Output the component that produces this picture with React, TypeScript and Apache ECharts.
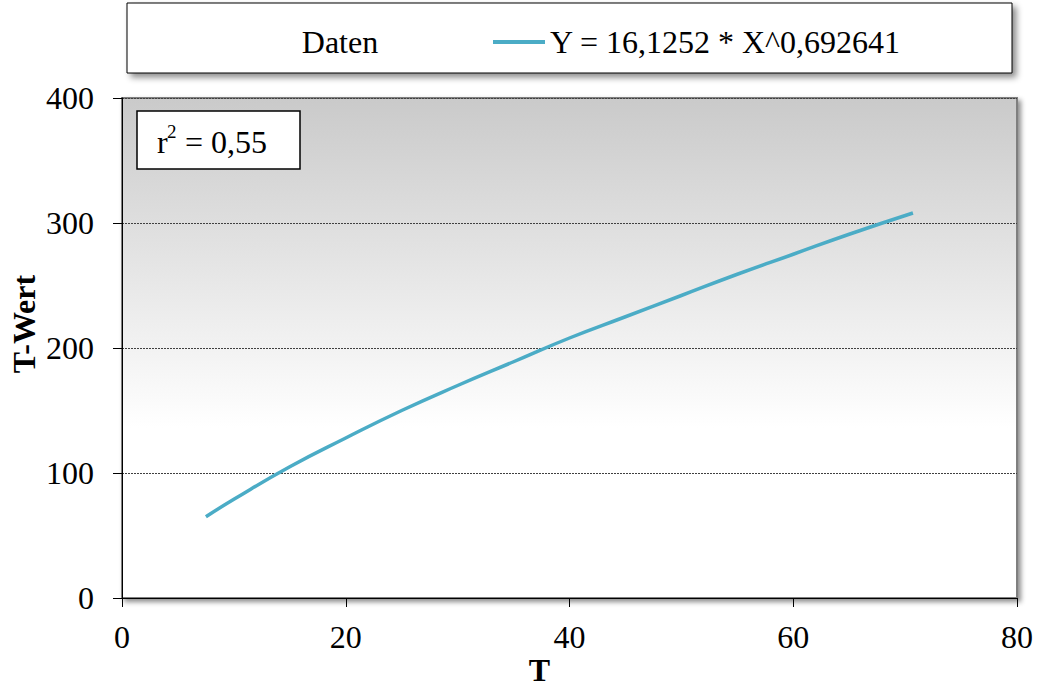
import React, { useEffect, useRef } from "react";
import * as echarts from "echarts";

const xValues = [7.5, 10, 15, 20, 25, 30, 35, 40, 45, 50, 55, 60, 65, 70.7];
const yValues = [65, 79, 105, 128, 150, 170, 189, 208, 225, 242, 259, 275, 291, 308];
const seriesName = "Y = 16,1252 * X^0,692641";
const dataLabel = "Daten";
const rSquared = "0,55";
const xTitle = "T";
const yTitle = "T-Wert";

const FONT = "'Liberation Serif', 'Times New Roman', serif";
const FS = 32;

export default function App() {
  const ref = useRef<HTMLDivElement>(null);
  useEffect(() => {
    if (!ref.current) return;
    const chart = echarts.init(ref.current, undefined, { renderer: "svg" });
    const data = xValues.map((x, i) => [x, yValues[i]]);
    chart.setOption({
      animation: false,
      textStyle: { fontFamily: FONT },
      grid: {
        left: 122,
        right: 20,
        top: 98,
        bottom: 91,
        outerBoundsMode: "none",
        containLabel: false,
        show: true,
        backgroundColor: new echarts.graphic.LinearGradient(0, 0, 0, 1, [
          { offset: 0, color: "#cacaca" },
          { offset: 0.66, color: "#ffffff" },
          { offset: 1, color: "#ffffff" },
        ]),
        borderColor: "#7f7f7f",
        borderWidth: 2,
        shadowBlur: 5,
        shadowOffsetX: 3,
        shadowOffsetY: 3,
        shadowColor: "rgba(0,0,0,0.45)",
      },
      legend: {
        data: [seriesName],
        left: 493,
        top: 26,
        padding: 0,
        icon: "rect",
        itemWidth: 52,
        itemHeight: 4,
        textStyle: { fontFamily: FONT, fontSize: FS, color: "#000" },
      },
      xAxis: {
        type: "value",
        min: 0,
        max: 80,
        interval: 20,
        name: xTitle,
        nameLocation: "middle",
        nameGap: 56,
        nameMoveOverlap: false,
        nameTextStyle: {
          fontFamily: FONT,
          fontSize: FS,
          fontWeight: "bold",
          color: "#000",
          lineHeight: 32,
          padding: [0, 60, 0, 0],
        },
        axisLine: { show: true, onZero: false, lineStyle: { color: "#000", width: 1 } },
        axisTick: { show: true, inside: false, length: 9, lineStyle: { color: "#000" } },
        axisLabel: { fontFamily: FONT, fontSize: FS, color: "#000", margin: 23 },
        splitLine: { show: false },
      },
      yAxis: {
        type: "value",
        min: 0,
        max: 400,
        interval: 100,
        name: yTitle,
        nameLocation: "middle",
        nameGap: 82,
        nameMoveOverlap: false,
        nameTextStyle: {
          fontFamily: FONT,
          fontSize: FS,
          fontWeight: "bold",
          color: "#000",
          padding: [0, 0, 0, 48],
        },
        axisLine: { show: true, lineStyle: { color: "#000", width: 1 } },
        axisTick: { show: true, inside: false, length: 9, lineStyle: { color: "#000" } },
        axisLabel: { fontFamily: FONT, fontSize: FS, color: "#000", margin: 28 },
        splitLine: {
          show: true,
          lineStyle: { color: "#404040", type: [2, 1], width: 1 },
        },
      },
      series: [
        {
          name: seriesName,
          type: "line",
          data,
          smooth: true,
          showSymbol: false,
          symbol: "none",
          lineStyle: { color: "#4bacc6", width: 3.5 },
          itemStyle: { color: "#4bacc6" },
        },
      ],
      graphic: [
        {
          type: "rect",
          z: -1,
          shape: { x: 127, y: 3, width: 885, height: 70 },
          style: {
            fill: "#fff",
            stroke: "#000",
            lineWidth: 1,
            shadowBlur: 6,
            shadowOffsetX: 4,
            shadowOffsetY: 4,
            shadowColor: "rgba(0,0,0,0.45)",
          },
        },
        {
          type: "text",
          x: 340,
          y: 42,
          style: {
            text: dataLabel,
            font: `${FS}px ${FONT}`,
            fill: "#000",
            textAlign: "center",
            textVerticalAlign: "middle",
          },
        },
        {
          type: "rect",
          z: 10,
          shape: { x: 137, y: 111, width: 163, height: 58 },
          style: { fill: "#fff", stroke: "#000", lineWidth: 1.5 },
        },
        {
          type: "text",
          z: 11,
          x: 157,
          y: 142,
          style: {
            text: "r",
            font: `${FS}px ${FONT}`,
            fill: "#000",
            textAlign: "left",
            textVerticalAlign: "middle",
          },
        },
        {
          type: "text",
          z: 11,
          x: 167,
          y: 131,
          style: {
            text: "2",
            font: `19px ${FONT}`,
            fill: "#000",
            textAlign: "left",
            textVerticalAlign: "middle",
          },
        },
        {
          type: "text",
          z: 11,
          x: 185,
          y: 142,
          style: {
            text: "= " + rSquared,
            font: `${FS}px ${FONT}`,
            fill: "#000",
            textAlign: "left",
            textVerticalAlign: "middle",
          },
        },
      ],
    });
    return () => chart.dispose();
  }, []);
  return (
    <div
      ref={ref}
      style={{ position: "fixed", left: 0, top: 0, width: 1037, height: 689, background: "#fff" }}
    />
  );
}
